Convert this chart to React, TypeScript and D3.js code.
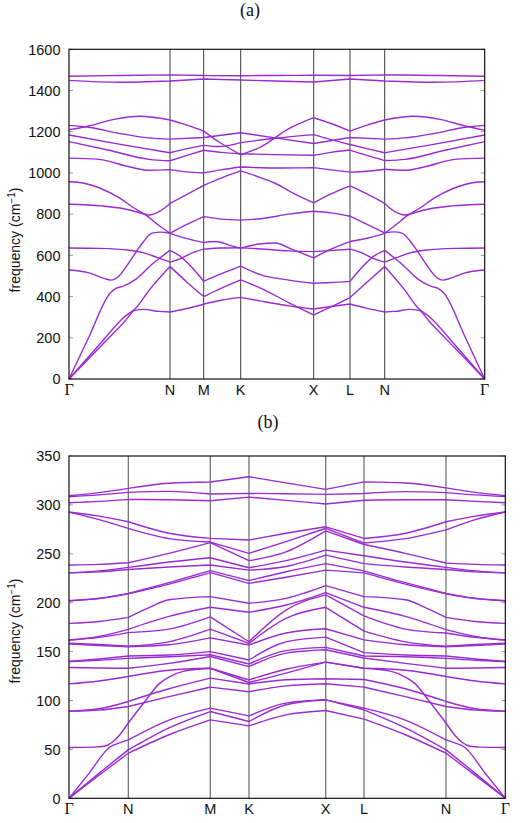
import React from "react";
import * as d3 from "d3";

// ---------- Panel (a) ----------
const KPATH_A = [0, 101, 134.7, 171.7, 244.7, 281, 315.7, 415.7];
const LABELS_A = ["Γ", "N", "M", "K", "X", "L", "N", "Γ"];
const YTICKS_A = [0, 200, 400, 600, 800, 1000, 1200, 1400, 1600];

const BANDS_A: number[][][] = [
  [[0,1469],[50,1473],[101,1476],[134.7,1473],[171.7,1472],[206,1473],[244.7,1474],[281,1473],[315.7,1476],[366,1473],[415.7,1469]],
  [[0,1449],[50,1440],[101,1446],[134.7,1456],[171.7,1451],[206,1446],[244.7,1441],[281,1456],[315.7,1446],[366,1440],[415.7,1449]],
  [[0,1210],[20,1228],[45,1260],[71,1275],[101,1257],[118,1232],[134.7,1203],[150,1150],[171.7,1088],[192,1127],[220,1215],[244.7,1268],[262,1240],[281,1203],[298,1232],[315.7,1257],[344,1275],[371,1260],[396,1228],[415.7,1208]],
  [[0,1231],[20,1222],[50,1192],[80,1170],[101,1164],[134.7,1172],[171.7,1195],[206,1170],[244.7,1143],[281,1172],[315.7,1164],[336,1170],[366,1192],[396,1222],[415.7,1231]],
  [[0,1184],[50,1140],[101,1098],[118,1118],[134.7,1134],[150,1128],[171.7,1147],[206,1168],[244.7,1186],[262,1162],[281,1138],[298,1118],[315.7,1098],[366,1140],[415.7,1184]],
  [[0,1152],[40,1110],[80,1066],[101,1059],[118,1085],[134.7,1110],[152,1100],[171.7,1093],[206,1089],[244.7,1086],[262,1100],[281,1111],[298,1085],[315.7,1060],[336,1066],[376,1110],[415.7,1152]],
  [[0,1072],[30,1066],[60,1030],[80,1013],[101,1016],[118,1005],[134.7,1000],[152,1015],[171.7,1029],[206,1024],[244.7,1026],[262,1015],[281,1004],[298,1008],[315.7,1018],[336,1013],[356,1030],[386,1066],[415.7,1072]],
  [[0,957],[15,950],[33,922],[50,880],[65,830],[77,795],[90,745],[101,707],[118,681],[134.7,662],[147,667],[160,650],[171.7,634],[190,655],[206,660],[225,625],[244.7,588],[262,630],[281,667],[298,683],[315.7,707],[326,745],[339,795],[351,830],[366,880],[383,922],[401,950],[415.7,957]],
  [[0,848],[33,840],[55,826],[70,808],[80,796],[90,812],[101,852],[118,896],[134.7,940],[152,975],[171.7,1010],[190,980],[206,950],[225,900],[244.7,855],[262,898],[281,937],[298,898],[315.7,852],[326,812],[336,796],[346,808],[361,826],[383,840],[415.7,848]],
  [[0,529],[20,515],[35,488],[42,480],[50,500],[60,565],[67,616],[75,670],[83,708],[92,713],[101,707],[118,750],[134.7,788],[152,776],[171.7,771],[192,778],[220,800],[244.7,814],[262,806],[281,790],[298,750],[315.7,709],[325,714],[333,708],[341,670],[349,616],[356,565],[366,500],[374,480],[381,488],[396,515],[415.7,529]],
  [[0,636],[30,634],[60,625],[75,612],[88,590],[101,567],[112,585],[122,610],[134.7,630],[152,636],[171.7,637],[192,631],[220,622],[244.7,618],[281,630],[294,610],[304,585],[315.7,567],[328,590],[341,612],[356,625],[386,634],[415.7,636]],
  [[0,0],[20,205],[41,416],[47,440],[53,448],[67,485],[83,557],[101,624],[110,600],[134.7,475],[152,510],[171.7,548],[192,505],[220,480],[244.7,465],[262,468],[281,474],[306,600],[315.7,624],[333,557],[349,485],[363,448],[369,440],[375,416],[396,205],[415.7,0]],
  [[0,0],[30,165],[55,300],[67,345],[80,430],[101,546],[118,470],[134.7,400],[152,440],[171.7,481],[192,440],[220,370],[244.7,311],[262,350],[281,395],[298,470],[315.7,546],[336,430],[349,345],[361,300],[386,165],[415.7,0]],
  [[0,0],[30,150],[55,275],[66,333],[75,338],[90,328],[101,325],[118,342],[134.7,363],[152,382],[171.7,396],[192,378],[220,355],[244.7,340],[262,352],[281,364],[298,343],[315.7,325],[326,328],[341,338],[350,333],[361,275],[386,150],[415.7,0]],
];

// ---------- Panel (b) ----------
const KPATH_B = [0, 59.3, 141.3, 180, 256.7, 295, 377, 436.3];
const LABELS_B = ["Γ", "N", "M", "K", "X", "L", "N", "Γ"];
const YTICKS_B = [0, 50, 100, 150, 200, 250, 300, 350];
const KNOTS_B = [0, 30, 59.3, 100, 141.3, 180, 217, 256.7, 295, 336.3, 377, 406.3, 436.3];

const BANDS_B_STD: number[][] = [
  [309.4, 312.5, 316.9, 322.2, 323.4, 328.8, 322.5, 315.9, 323.5, 322.4, 317.4, 312.8, 309.4],
  [308.4, 310.2, 312.8, 313.8, 311.1, 311.8, 311.4, 310.8, 311.6, 313.6, 312.6, 310.2, 308.4],
  [302.2, 303.6, 305.6, 305.2, 304.3, 308.0, 304.6, 300.9, 304.8, 305.2, 305.2, 303.6, 302.2],
  [292.7, 288.5, 282.8, 271.0, 265.8, 264.1, 271.0, 277.6, 265.7, 271.0, 282.8, 288.5, 292.7],
  [292.7, 285.0, 276.0, 265.5, 262.0, 250.5, 262.5, 276.0, 261.0, 265.5, 274.5, 285.0, 292.7],
  [238.5, 239.2, 240.9, 250.5, 261.5, 243.0, 252.0, 273.5, 259.5, 250.5, 240.5, 239.2, 238.5],
  [230.5, 232.5, 236.1, 241.6, 246.0, 235.7, 243.0, 253.8, 248.0, 241.6, 236.1, 232.5, 230.5],
  [230.5, 231.5, 234.0, 236.5, 238.5, 233.3, 237.0, 248.6, 240.0, 236.5, 234.0, 231.5, 230.5],
  [202.0, 204.5, 209.6, 220.5, 232.8, 222.6, 231.7, 240.0, 232.6, 220.5, 209.6, 204.5, 202.0],
  [202.0, 204.2, 209.0, 219.0, 230.7, 219.8, 226.0, 233.3, 230.5, 219.0, 209.0, 204.2, 202.0],
  [161.8, 165.5, 172.8, 186.0, 195.3, 190.2, 197.6, 210.3, 195.3, 186.0, 172.4, 165.5, 161.8],
  [161.8, 164.5, 169.4, 173.0, 185.5, 160.1, 192.5, 208.0, 186.5, 173.0, 169.0, 164.5, 161.8],
  [158.7, 157.2, 155.5, 160.0, 173.0, 158.4, 184.0, 195.3, 171.0, 160.0, 155.5, 157.2, 158.7],
  [157.7, 156.3, 155.0, 157.0, 164.0, 156.7, 169.0, 173.4, 162.0, 157.0, 155.0, 156.3, 157.7],
  [139.9, 142.5, 145.5, 146.5, 150.0, 141.4, 160.0, 164.8, 149.0, 146.5, 145.5, 142.5, 139.9],
  [139.9, 141.2, 143.1, 144.8, 146.8, 137.3, 151.0, 154.3, 145.5, 144.8, 143.1, 141.2, 139.9],
  [133.8, 133.2, 133.0, 138.0, 145.0, 134.6, 148.5, 151.9, 143.5, 138.0, 133.0, 133.2, 133.8],
  [117.0, 120.0, 124.6, 131.0, 133.0, 118.4, 128.0, 139.2, 133.0, 131.0, 124.6, 120.0, 117.0],
  [89.1, 91.5, 99.0, 112.0, 122.9, 116.9, 121.2, 122.2, 121.5, 112.0, 99.0, 91.5, 89.1],
  [89.1, 90.2, 93.9, 104.0, 113.7, 109.0, 114.9, 117.1, 113.7, 104.0, 93.9, 90.2, 89.1],
  [0, 25.5, 49.5, 72.0, 88.7, 78.5, 95.6, 100.7, 90.5, 72.0, 49.5, 25.5, 0],
  [0, 23.5, 46.1, 65.0, 80.2, 74.1, 85.3, 89.8, 80.9, 65.0, 46.1, 23.5, 0],
];

const BANDS_B_EXTRA: number[][][] = [
  [[0,178.9],[30,180.8],[59.3,185],[80,195],[100,203],[141.3,206.2],[180,199.4],[217,204.4],[256.7,217.4],[295,206.2],[336.3,203],[356.3,195],[377,185],[406.3,180.8],[436.3,178.9]],
  [[0,51.9],[25,52.3],[35,53.2],[43,57],[50,64],[59.3,77],[77,100.5],[90,117],[100,124],[115,130],[141.3,133],[180,121],[217,132],[256.7,139.2],[295,133],[321.3,130],[336.3,124],[346.3,117],[359.3,100.5],[377,77],[386.3,64],[393.3,57],[401.3,53.2],[411.3,52.3],[436.3,51.9]],
  [[0,0],[20,25.5],[41,52.5],[50,56.5],[59.3,59.7],[100,80],[141.3,92.2],[180,84.3],[217,97.3],[256.7,100.7],[295,92.2],[336.3,80],[377,59.7],[386.3,56.5],[395.3,52.5],[416.3,25.5],[436.3,0]],
];

const BANDS_B: number[][][] = [
  ...BANDS_B_STD.map((vals) => vals.map((v, i) => [KNOTS_B[i], v])),
  ...BANDS_B_EXTRA,
];

const LINE_COLOR = "#9a2bd2";
const SANS = "'Liberation Sans', Arial, Helvetica, sans-serif";
const SERIF = "'Liberation Serif', 'Times New Roman', serif";

type PanelProps = {
  bands: number[][][];
  kpath: number[];
  labels: string[];
  yticks: number[];
  x0: number;
  x1: number;
  yTop: number;
  yBot: number;
  title: string;
  titleX: number;
  titleY: number;
  labelCY: number;
  vColor: string;
  vWidth: number;
};

function Panel(p: PanelProps) {
  const kmax = p.kpath[p.kpath.length - 1];
  const ymax = p.yticks[p.yticks.length - 1];
  const x = d3.scaleLinear().domain([0, kmax]).range([p.x0, p.x1]);
  const y = d3.scaleLinear().domain([0, ymax]).range([p.yBot, p.yTop]);
  const line = d3
    .line<number[]>()
    .x((d) => x(d[0]))
    .y((d) => y(d[1]))
    .curve(d3.curveMonotoneX);

  const bandPath = (pts: number[][]) => {
    let d = "";
    for (let i = 0; i < p.kpath.length - 1; i++) {
      const lo = p.kpath[i] - 1e-6;
      const hi = p.kpath[i + 1] + 1e-6;
      const seg = pts.filter((q) => q[0] >= lo && q[0] <= hi);
      if (seg.length >= 2) d += line(seg) || "";
    }
    return d;
  };

  return (
    <g>
      <text x={p.titleX} y={p.titleY} fontFamily={SERIF} fontSize={18} textAnchor="middle" fill="#111">
        {p.title}
      </text>
      {p.kpath.slice(1, -1).map((k, i) => (
        <line key={"v" + i} x1={x(k)} x2={x(k)} y1={p.yTop} y2={p.yBot} stroke={p.vColor} strokeWidth={p.vWidth} />
      ))}
      {p.yticks.map((t) => (
        <g key={"t" + t}>
          <line x1={p.x0} x2={p.x0 + 4} y1={y(t)} y2={y(t)} stroke="#999" strokeWidth={1} />
          <line x1={p.x1 - 4} x2={p.x1} y1={y(t)} y2={y(t)} stroke="#999" strokeWidth={1} />
          <text x={p.x0 - 8.5} y={y(t)} dy="0.36em" textAnchor="end" fontFamily={SANS} fontSize={14.5} fill="#111">
            {t}
          </text>
        </g>
      ))}
      {p.bands.map((b, i) => (
        <path key={"b" + i} d={bandPath(b)} fill="none" stroke={LINE_COLOR} strokeWidth={1.4} />
      ))}
      <rect x={p.x0} y={p.yTop} width={p.x1 - p.x0} height={p.yBot - p.yTop} fill="none" stroke="#111" strokeWidth={1.2} />
      {p.kpath.map((k, i) => (
        <text
          key={"l" + i}
          x={x(k)}
          y={p.yBot + 16}
          textAnchor="middle"
          fontFamily={p.labels[i] === "Γ" ? SERIF : SANS}
          fontSize={p.labels[i] === "Γ" ? 16 : 14.5}
          fill="#111"
        >
          {p.labels[i]}
        </text>
      ))}
      <text
        transform={`translate(20,${p.labelCY}) rotate(-90)`}
        textAnchor="middle"
        fontFamily={SANS}
        fontSize={14}
        fill="#111"
      >
        frequency (cm
        <tspan dy="-5" fontSize="10">−1</tspan>
        <tspan dy="5">)</tspan>
      </text>
    </g>
  );
}

export default function App() {
  return (
    <svg
      width={522}
      height={823}
      viewBox="0 0 522 823"
      style={{ position: "absolute", left: 0, top: 0, background: "#fff" }}
    >
      <rect x={0} y={0} width={522} height={823} fill="#fff" />
      <Panel
        bands={BANDS_A}
        kpath={KPATH_A}
        labels={LABELS_A}
        yticks={YTICKS_A}
        x0={69}
        x1={484.7}
        yTop={49.3}
        yBot={379}
        title="(a)"
        titleX={250}
        titleY={16}
        labelCY={240}
        vColor="#3a3a3a"
        vWidth={1}
      />
      <Panel
        bands={BANDS_B}
        kpath={KPATH_B}
        labels={LABELS_B}
        yticks={YTICKS_B}
        x0={69}
        x1={505.3}
        yTop={456}
        yBot={798.3}
        title="(b)"
        titleX={268}
        titleY={428}
        labelCY={631}
        vColor="#6a6a6a"
        vWidth={1.2}
      />
    </svg>
  );
}
